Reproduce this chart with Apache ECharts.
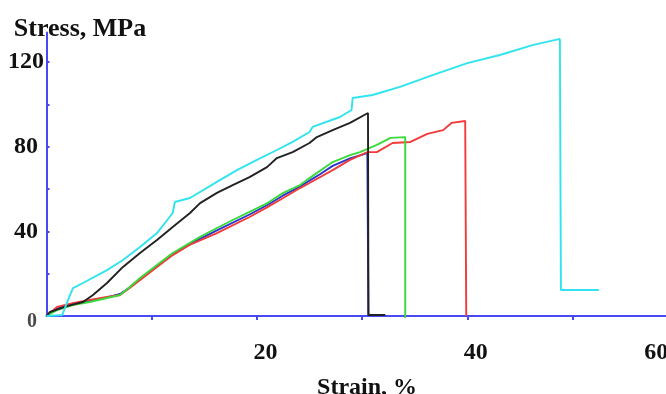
<!DOCTYPE html>
<html>
<head>
<meta charset="utf-8">
<script src="https://cdn.jsdelivr.net/npm/echarts@6/dist/echarts.min.js"></script>
<style>html,body{margin:0;padding:0;background:#fff}#c{width:666px;height:394px}</style>
</head>
<body>
<div id="c"></div>
<script>
// Strain (%) vs Stress (MPa) curves
const cyanCurve = [[0,0],[1.5,0.5],[2.23,9.9],[2.52,13.2],[3.47,15.6],[5.75,21.7],[7.27,26.5],[8.89,32.6],[10.5,39.2],[12.0,48.7],[12.2,53.9],[13.64,55.8],[16.2,63.4],[18.1,69.0],[20.0,73.8],[21.9,78.5],[23.4,82.3],[25.0,87.0],[25.3,89.4],[27.9,94.1],[29.0,97.4],[29.1,103.1],[31.0,104.5],[33.6,108.3],[36.7,113.9],[40.0,119.6],[43.1,123.4],[46.2,128.1],[48.8,131.0],[48.9,12.3],[52.5,12.3]];
const blackCurve = [[0,0],[0.33,1.9],[1.95,4.7],[3.47,6.6],[4.42,9.9],[5.75,15.6],[7.27,23.2],[8.89,29.8],[10.5,35.9],[12.0,42.1],[13.64,48.7],[14.6,53.4],[16.2,58.2],[17.7,61.9],[19.3,65.7],[20.96,70.4],[21.9,74.7],[23.4,77.5],[25.0,81.8],[25.7,84.6],[27.2,87.9],[28.85,91.3],[30.56,96.0],[30.6,0.5],[32.2,0.5]];
const blueCurve = [[0,0],[1.0,3.5],[2.5,5.8],[4.1,7.2],[5.75,8.8],[7.0,10.4],[7.9,13.5],[8.9,17.5],[10.5,23.6],[12.0,29.3],[13.6,34.0],[16.2,40.5],[19.3,48.0],[21.0,52.5],[22.5,57.0],[24.1,61.2],[25.0,64.0],[26.0,67.0],[27.2,71.0],[28.85,74.5],[30.5,77.0],[30.6,0]];
const greenCurve = [[0,0],[1.0,2.8],[2.5,5.2],[4.1,6.6],[5.75,8.5],[7.0,9.9],[7.9,13.7],[8.9,18.0],[10.5,24.1],[12.0,29.8],[13.6,34.5],[14.6,37.4],[16.2,41.6],[17.7,45.4],[19.3,49.2],[21.0,53.4],[22.5,58.2],[24.1,61.9],[25.0,65.2],[27.2,72.8],[28.85,76.1],[29.8,77.5],[31.4,80.9],[32.7,84.2],[34.1,84.6],[34.1,-1]];
const redCurve = [[0,0],[1.0,4.3],[2.5,6.1],[4.1,7.6],[5.75,9.0],[7.0,9.9],[7.9,13.2],[8.9,17.0],[10.5,23.2],[12.0,28.8],[13.6,33.6],[16.2,39.2],[19.3,46.8],[21.0,51.5],[22.5,55.8],[24.1,60.5],[25.0,62.9],[27.2,69.0],[28.85,73.8],[30.5,77.5],[31.4,77.5],[32.9,81.8],[34.6,82.3],[36.2,86.1],[37.7,87.9],[38.5,91.3],[39.8,92.2],[39.9,0]];

const xTickValues = [10,20,30,40,50];
const xLabelValues = [20,40,60];
const yTickValues = [0,20,40,60,80,100,120];
const yLabelValues = [0,40,80,120];

const axisBlue = '#4a4af2';
const font = 'Liberation Serif';

const chart = echarts.init(document.getElementById('c'), null, {renderer:'canvas'});
function mk(name, data, color){
  return {name, type:'line', data, showSymbol:false, symbol:'none', clip:false,
    lineStyle:{color, width:1.9}, itemStyle:{color}, animation:false};
}
chart.setOption({
  animation:false,
  backgroundColor:'#fff',
  grid:{left:46.5, right:-11.7, top:32.6, bottom:78, containLabel:false, outerBoundsMode:'none'},
  xAxis:{type:'value', min:0, max:60,
    name:'Strain, %', nameLocation:'middle', nameGap:60,
    nameTextStyle:{fontFamily:font, fontWeight:'bold', fontSize:24, color:'#111', padding:[0,0,0,10]},
    axisLine:{lineStyle:{color:axisBlue, width:2}},
    axisTick:{show:true, customValues:xTickValues, length:4, inside:false, lineStyle:{color:axisBlue, width:2}},
    splitLine:{show:false},
    axisLabel:{customValues:xLabelValues, margin:25, fontFamily:font, fontWeight:'bold', fontSize:24, color:'#111',
      formatter:function(v){ return v===60 ? '{e|60}' : '{n|'+v+'}'; },
      rich:{n:{fontFamily:font, fontWeight:'bold', fontSize:24, color:'#111', padding:[0,0,0,17]},
            e:{fontFamily:font, fontWeight:'bold', fontSize:24, color:'#111', padding:[0,43,0,0]}}}
  },
  yAxis:{type:'value', min:0, max:134,
    name:'Stress, MPa', nameLocation:'end', nameGap:-10,
    nameTextStyle:{fontFamily:font, fontWeight:'bold', fontSize:26, color:'#111', align:'center', padding:[0,0,0,67]},
    axisLine:{show:true, lineStyle:{color:axisBlue, width:2}},
    axisTick:{show:true, customValues:yTickValues, length:3, inside:true, lineStyle:{color:axisBlue, width:2}},
    splitLine:{show:false},
    axisLabel:{customValues:yLabelValues, margin:20.5, align:'center', fontFamily:font, fontWeight:'bold', fontSize:24, color:'#111',
      formatter:function(v){ return v===0 ? '{z|0}' : '{n|'+v+'}'; },
      rich:{n:{fontFamily:font, fontWeight:'bold', fontSize:24, color:'#111'},
            z:{fontFamily:font, fontWeight:'bold', fontSize:20, color:'#4a4a4a', padding:[12,0,0,12]}}}
  },
  series:[
    mk('blue', blueCurve, '#2a35d0'),
    mk('red', redCurve, '#f23a3a'),
    mk('green', greenCurve, '#3ada3a'),
    mk('black', blackCurve, '#222222'),
    mk('cyan', cyanCurve, '#2fe4ee')
  ]
});
</script>
</body>
</html>
